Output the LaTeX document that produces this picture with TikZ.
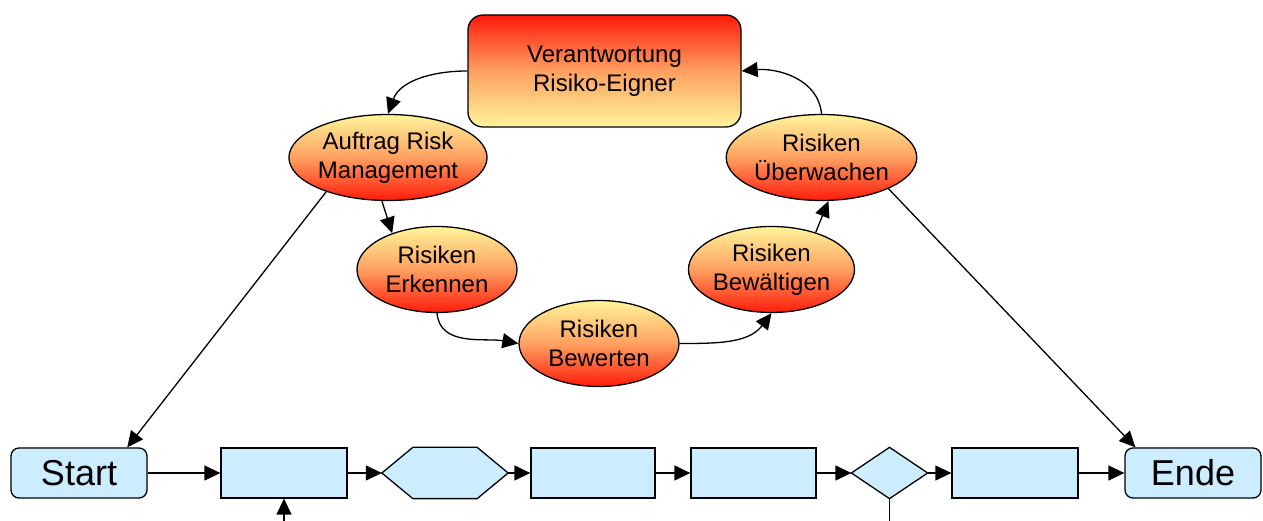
\documentclass[tikz,border=0pt]{standalone}
\usepackage{fontspec}
\setmainfont{Liberation Sans}
\usetikzlibrary{shapes.geometric,arrows.meta}
\definecolor{lblue}{HTML}{CCECFF}
\definecolor{gred}{HTML}{FF1A0A}
\definecolor{gorange}{HTML}{FFA060}
\definecolor{gyellow}{HTML}{FFF59A}
\begin{document}
\begin{tikzpicture}[x=1pt,y=1pt,line width=1.3pt,
  arr/.style={-{Triangle[length=16pt,width=15pt]}},
  oval/.style={ellipse, draw, minimum width=162pt, minimum height=86pt, inner sep=0pt,
    top color=gyellow, bottom color=gred, middle color=gorange,
    align=center, font=\fontsize{24}{29}\selectfont},
  headbox/.style={draw, rounded corners=15pt, minimum width=273pt, minimum height=112pt,
    top color=gred, bottom color=gyellow, middle color=gorange,
    align=center, font=\fontsize{24}{29}\selectfont},
  endbox/.style={draw, fill=lblue, rounded corners=8pt, minimum width=136pt, minimum height=50pt,
    inner sep=0pt, font=\fontsize{36}{40}\selectfont},
  procbox/.style={draw, fill=lblue, minimum width=125pt, minimum height=50pt, inner sep=0pt},
  ghost/.style={minimum height=50pt, inner sep=0pt}
]
\useasboundingbox (0,0) rectangle (1263,521);

% top cycle
\node[headbox] (V) at (604.5,450) {Verantwortung\\Risiko-Eigner};
\node[oval] (A) at (388,363.5) {Auftrag Risk\\Management};
\node[oval, minimum width=160pt] (E) at (437,251.5) {Risiken\\Erkennen};
\node[oval, minimum width=160pt] (W) at (599,177.5) {Risiken\\Bewerten};
\node[oval, minimum width=160pt] (G) at (771.5,251.5) {Risiken\\Bewältigen};
\node[oval] (U) at (821.5,363.5) {Risiken\\Überwachen};

% bottom row
\node[endbox] (S) at (79,48) {Start};
\node[procbox, minimum width=126pt] (B1) at (284,48) {};
\node[ghost, minimum width=125pt] (H) at (445,48) {};
\draw[fill=lblue] (H.west) -- ([xshift=31pt]H.north west) -- ([xshift=-31pt]H.north east)
  -- (H.east) -- ([xshift=-31pt]H.south east) -- ([xshift=31pt]H.south west) -- cycle;
\node[procbox, minimum width=124pt] (B2) at (593,48) {};
\node[procbox] (B3) at (753.5,48) {};
\node[ghost, minimum width=75pt] (D) at (889.5,48) {};
\draw[fill=lblue] (D.west) -- (D.north) -- (D.east) -- (D.south) -- cycle;
\node[procbox, minimum width=126pt] (B4) at (1015,48) {};
\node[endbox] (N) at (1193,48) {Ende};

\coordinate (inB) at (284,0);
\coordinate (outD) at (889.5,0);

% cycle connectors
\draw[arr] (V.west) to[out=180,in=70] (A.north);
\draw[arr] (A.-98) -- (E.141);
\draw[arr] (E.south) to[out=-85,in=170] (W.west);
\draw[arr] (W.east) to[out=0,in=233] (G.south);
\draw[arr] (G.40) -- (U.-81);
\draw[arr] (U.north) to[out=95,in=5] (V.east);

% links to start/end
\draw[arr] (A.-151) -- (S.28.5);
\draw[arr] (U.-25) -- (N.156.7);

% bottom flow
\draw[arr] (S.east) -- (B1.west);
\draw[arr] (B1.east) -- (H.west);
\draw[arr] (H.east) -- (B2.west);
\draw[arr] (B2.east) -- (B3.west);
\draw[arr] (B3.east) -- (D.west);
\draw[arr] (D.east) -- (B4.west);
\draw[arr] (B4.east) -- (N.west);
\draw[arr] (inB) -- (B1.south);
\draw (D.south) -- (outD);
\end{tikzpicture}
\end{document}
